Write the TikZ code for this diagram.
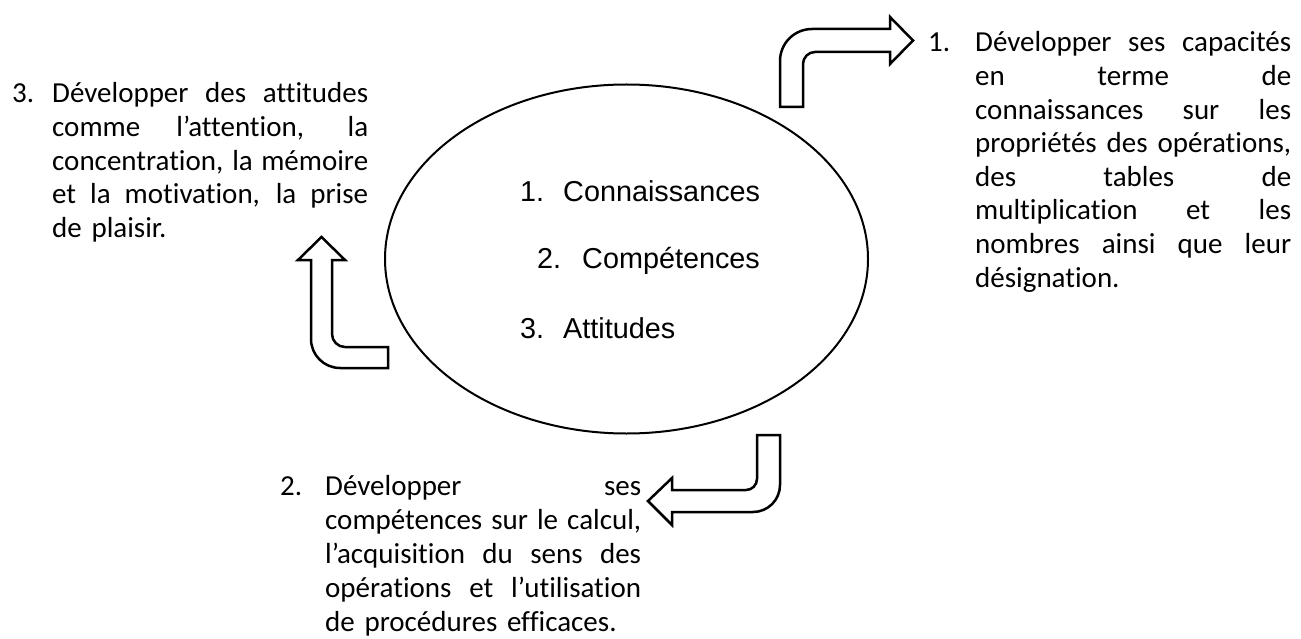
\documentclass[tikz,border=0pt]{standalone}
\usepackage{fontspec}
\setmainfont{Carlito}[Ligatures=NoCommon]
\newfontfamily\arialfont{Liberation Sans}
\usepackage{tikz}
\usetikzlibrary{shapes.geometric}

\newlength\notewidth
\setlength\notewidth{316pt}
\newcommand{\jline}[1]{\leavevmode\hbox to \notewidth{\spaceskip=\fontdimen2\font plus 1fil\relax #1}\\}

\tikzset{
  core/.style={anchor=base west, inner sep=0pt, font=\arialfont\fontsize{28.8}{34}\selectfont},
  note/.style={anchor=base west, inner sep=0pt, text width=\notewidth, font=\fontsize{29}{33.6}\selectfont},
  num/.style={anchor=base west, inner sep=0pt, font=\fontsize{29}{33.6}\selectfont},
  bentarrow/.style={draw, fill=white, line width=2.5pt},
}

\begin{document}
\begin{tikzpicture}[x=1pt, y=-1pt]
\useasboundingbox (0,0) rectangle (1301,639);

\node (ring) at (626.5,259) [ellipse, draw, line width=2pt, minimum width=483pt, minimum height=349pt, inner sep=0pt] {};

\node (n1) at (520,202) [core] {1.};
\node (k1) at (563,202) [core] {Connaissances};
\node (n2) at (537,269) [core] {2.};
\node (k2) at (582,269) [core] {Compétences};
\node (n3) at (520,338) [core] {3.};
\node (k3) at (563,338) [core] {Attitudes};

\filldraw[bentarrow] (780,107) -- (780,61) arc[start angle=180, end angle=270, radius=32] -- (890,29) -- (890,17) -- (913,40.5) -- (890,64) -- (890,52) -- (815,52) arc[start angle=270, end angle=180, radius=12] -- (803,107) -- cycle;
\filldraw[bentarrow] (757,435) -- (780,435) -- (780,485) arc[start angle=0, end angle=90, radius=27] -- (672,512) -- (672,525) -- (648,501) -- (672,478) -- (672,490) -- (746,490) arc[start angle=90, end angle=0, radius=11] -- cycle;
\filldraw[bentarrow] (388,368) -- (340,368) arc[start angle=90, end angle=180, radius=29] -- (311,260) -- (298,260) -- (321.5,237) -- (345,260) -- (332,260) -- (332,334) arc[start angle=180, end angle=90, radius=13] -- (388,347) -- cycle;

\node (m1) at (928,52) [num] {1.};
\node (t1) at (975,52) [note] {\jline{Développer ses capacités}\jline{en terme de}\jline{connaissances sur les}\jline{propriétés des opérations,}\jline{des tables de}\jline{multiplication et les}\jline{nombres ainsi que leur}désignation.};

\node (m2) at (280,495) [num] {2.};
\node (t2) at (325,495) [note, font=\fontsize{29}{34.2}\selectfont] {\jline{Développer ses}\jline{compétences sur le calcul,}\jline{l’acquisition du sens des}\jline{opérations et l’utilisation}de procédures efficaces.};

\node (m3) at (12,103) [num] {3.};
\node (t3) at (52,103) [note] {\jline{Développer des attitudes}\jline{comme l’attention, la}\jline{concentration, la mémoire}\jline{et la motivation, la prise}de plaisir.};

\end{tikzpicture}
\end{document}
